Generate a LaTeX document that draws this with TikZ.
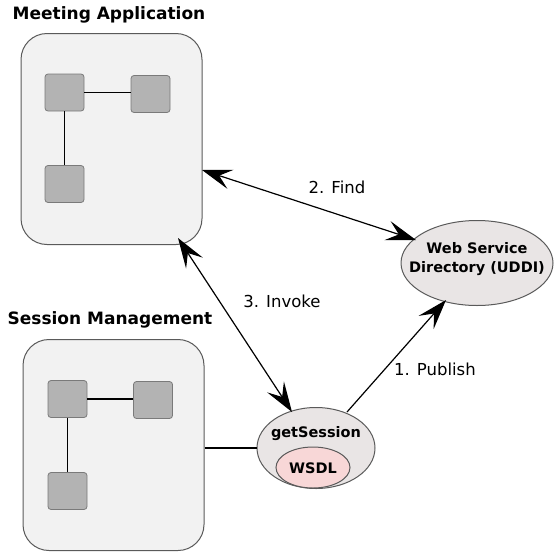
\documentclass[tikz,border=0pt]{standalone}
\usepackage{fontspec}
\setmainfont{DejaVu Sans}
\usetikzlibrary{arrows.meta,shapes.geometric}
\definecolor{boxfill}{HTML}{F2F2F2}
\definecolor{boxline}{HTML}{5A5A5A}
\definecolor{compfill}{HTML}{B3B3B3}
\definecolor{compline}{HTML}{7A7A7A}
\definecolor{svcfill}{HTML}{E9E5E5}
\definecolor{wsdlfill}{HTML}{F8D7D7}
\begin{document}
\begin{tikzpicture}[x=1pt,y=-1pt,
  container/.style={draw=boxline,fill=boxfill,line width=1pt,rounded corners=26pt,minimum width=181pt,minimum height=211pt,inner sep=0pt},
  comp/.style={draw=compline,fill=compfill,line width=0.8pt,rounded corners=3pt,minimum width=39pt,minimum height=37pt,inner sep=0pt},
  svc/.style={ellipse,draw=boxline,fill=svcfill,line width=1pt,inner sep=0pt},
  svctext/.style={font=\bfseries\fontsize{14.5}{19}\selectfont,align=center,inner sep=0pt},
  title/.style={font=\bfseries\fontsize{17}{20}\selectfont,inner sep=0pt},
  lbl/.style={font=\fontsize{16.5}{20}\selectfont,inner sep=0pt},
  conn/.style={line width=1.2pt},
  tip/.style={-{Stealth[length=30pt,width=20pt,inset=12pt]}},
  dtip/.style={{Stealth[length=30pt,width=20pt,inset=12pt]}-{Stealth[length=30pt,width=20pt,inset=12pt]}}
]
\useasboundingbox (0,0) rectangle (554,552);
% Meeting application
\node[title] (mt) at (109,15) {Meeting Application};
\node[container] (ma) at (111.5,139) {};
\node[comp] (a1) at (64.5,92.5) {};
\node[comp] (a2) at (150.5,94) {};
\node[comp] (a3) at (64.5,184) {};
\draw[conn] (a1.east) -- (a2.west|-a1.east);
\draw[conn] (a1.south) -- (a3.north);
% Session management
\node[title] (st) at (110,320) {Session Management};
\node[container] (sm) at (113.5,445) {};
\node[comp] (b1) at (67.5,399) {};
\node[comp] (b2) at (153,400) {};
\node[comp] (b3) at (67.5,491) {};
\draw[conn] (b1.east) -- (b2.west|-b1.east);
\draw[conn] (b1.south) -- (b3.north);
% services
\node[svc,minimum width=152pt,minimum height=85pt] (uddi) at (477,263) {};
\node[svctext] (uddit) at (477,259) {Web Service\\Directory (UDDI)};
\node[svc,minimum width=118pt,minimum height=81pt] (gs) at (316,448) {};
\node[svctext] (gst) at (316,434) {getSession};
\node[ellipse,draw=boxline,fill=wsdlfill,line width=1pt,inner sep=0pt,minimum width=74pt,minimum height=41pt] (wsdl) at (313,467.5) {};
\node[svctext] (wsdlt) at (313,468) {WSDL};
% connectors
\coordinate (fa) at (202,170);
\coordinate (fb) at (416,240);
\draw[conn,dtip] (fa) -- (fb);
\node[lbl] (fl) at (337,187) {2. Find};
\coordinate (ia) at (178,238);
\coordinate (ib) at (292,412);
\draw[conn,dtip] (ia) -- (ib);
\node[lbl] (il) at (282,301) {3. Invoke};
\coordinate (pa) at (347,412);
\coordinate (pb) at (446,300);
\draw[conn,tip] (pa) -- (pb);
\node[lbl] (pl) at (435,369) {1. Publish};
\draw[conn] (sm.east|-gs.west) -- (gs.west);
\end{tikzpicture}
\end{document}
